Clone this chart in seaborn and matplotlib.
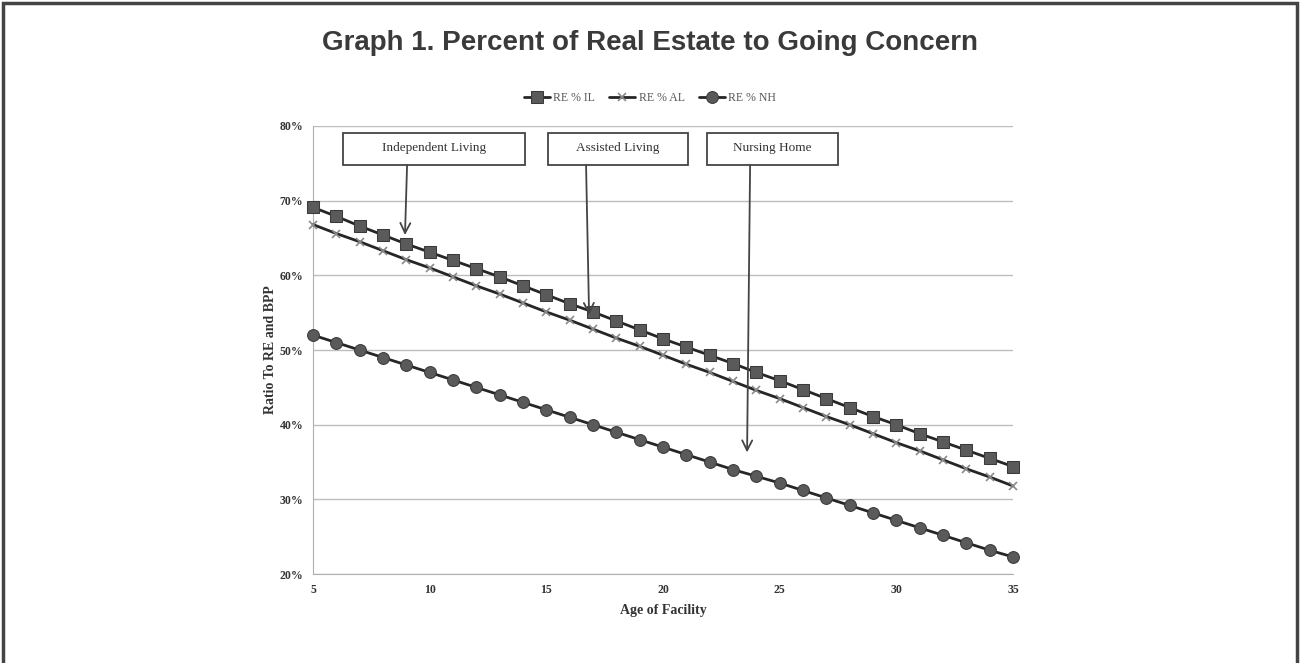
import numpy as np
import pandas as pd
import seaborn as sns
import matplotlib.pyplot as plt
from matplotlib.patches import Rectangle
from matplotlib.ticker import PercentFormatter

# Data
age = list(range(5, 36))
re_il = [69.1, 67.9, 66.6, 65.4, 64.2, 63.1, 62.0, 60.9, 59.8, 58.6, 57.4, 56.2, 55.1, 53.9, 52.7, 51.5,
         50.4, 49.3, 48.2, 47.0, 45.9, 44.7, 43.5, 42.3, 41.1, 40.0, 38.8, 37.7, 36.6, 35.5, 34.4]
re_al = [66.8, 65.6, 64.5, 63.3, 62.1, 61.0, 59.8, 58.6, 57.5, 56.3, 55.1, 54.0, 52.8, 51.6, 50.5, 49.3,
         48.1, 47.0, 45.8, 44.6, 43.5, 42.3, 41.1, 40.0, 38.8, 37.6, 36.5, 35.3, 34.1, 33.0, 31.8]
re_nh = [52.0, 51.0, 50.0, 49.0, 48.0, 47.0, 46.0, 45.0, 44.0, 43.0, 42.0, 41.0, 40.0, 39.0, 38.0, 37.0,
         36.0, 35.0, 34.0, 33.1, 32.2, 31.2, 30.2, 29.2, 28.2, 27.2, 26.2, 25.2, 24.2, 23.2, 22.3]
series = ["RE % IL", "RE % AL", "RE % NH"]
labels = ["Independent Living", "Assisted Living", "Nursing Home"]

df = pd.DataFrame({"Age": age * 3,
                   "Value": re_il + re_al + re_nh,
                   "Series": [series[0]] * 31 + [series[1]] * 31 + [series[2]] * 31})

sns.set_style("white")
plt.rcParams['font.family'] = ['Liberation Serif', 'DejaVu Serif']

fig = plt.figure(figsize=(13, 6.63), dpi=100)
ax = fig.add_axes([0.2408, 0.134, 0.5385, 0.676])

styles = {"RE % IL": dict(marker="s", markersize=8.5, markerfacecolor="#5a5a5a", markeredgecolor="#3a3a3a"),
          "RE % AL": dict(marker="x", markersize=6, markeredgecolor="#8a8a8a", markeredgewidth=1.2),
          "RE % NH": dict(marker="o", markersize=8.5, markerfacecolor="#5a5a5a", markeredgecolor="#3a3a3a")}
for s in series:
    sns.lineplot(data=df[df["Series"] == s], x="Age", y="Value", ax=ax, color="#262626",
                 linewidth=2, label=s, clip_on=False, zorder=3, **styles[s])

ax.set_xlim(5, 35)
ax.set_ylim(20, 80)
ax.set_xticks([5, 10, 15, 20, 25, 30, 35])
ax.set_yticks([20, 30, 40, 50, 60, 70, 80])
ax.yaxis.set_major_formatter(PercentFormatter(decimals=0))
ax.grid(axis="y", color="#bdbdbd", linewidth=1)
ax.grid(axis="x", visible=False)
for sp in ["top", "right"]:
    ax.spines[sp].set_visible(False)
for sp in ["left", "bottom"]:
    ax.spines[sp].set_color("#b0b0b0")
ax.tick_params(axis="both", labelsize=8.5, colors="#333333", length=3, width=0.8, pad=4)
ax.tick_params(axis="both", color="#b0b0b0")
for t in ax.get_xticklabels() + ax.get_yticklabels():
    t.set_fontweight("bold")
ax.set_xlabel("Age of Facility", fontsize=10, fontweight="bold", color="#333333", labelpad=6)
ax.set_ylabel("Ratio To RE and BPP", fontsize=10, fontweight="bold", color="#333333", labelpad=2)

ax.get_legend().remove()
h, l = ax.get_legend_handles_labels()
fig.legend(h, l, loc="center", bbox_to_anchor=(0.5, 0.852), ncol=3, frameon=False,
           fontsize=8.5, labelcolor="#555555", handlelength=2.2, columnspacing=1.2, handletextpad=0.3)

# callout boxes with arrows
box_left = [6.29, 15.07, 21.89]
box_right = [14.09, 21.07, 27.5]
box_bottom, box_top = 74.75, 79.0
tail_x = [9.03, 16.7, 23.73]
head = [(8.94, 65.4), (16.83, 54.7), (23.6, 36.3)]
for lab, bl, br, tx, hd in zip(labels, box_left, box_right, tail_x, head):
    ax.add_patch(Rectangle((bl, box_bottom), br - bl, box_top - box_bottom, facecolor="white",
                           edgecolor="#444444", linewidth=1.3, zorder=4))
    ax.text((bl + br) / 2, 77.0, lab, ha="center", va="center", fontsize=9.5, color="#333333", zorder=5)
    ax.annotate("", xy=hd, xytext=(tx, box_bottom),
                arrowprops=dict(arrowstyle="->", color="#444444", lw=1.3, mutation_scale=18,
                                shrinkA=0, shrinkB=0), zorder=4)

fig.text(0.5, 0.935, "Graph 1. Percent of Real Estate to Going Concern", ha="center", va="center",
         fontsize=20, fontweight="bold", color="#3a3a3a", family=["Liberation Sans", "DejaVu Sans"])

fig.patches.append(Rectangle((0.002, -0.01), 0.996, 1.005, transform=fig.transFigure,
                             fill=False, edgecolor="#444444", linewidth=2.5))

fig.savefig("out.png", dpi=100)
